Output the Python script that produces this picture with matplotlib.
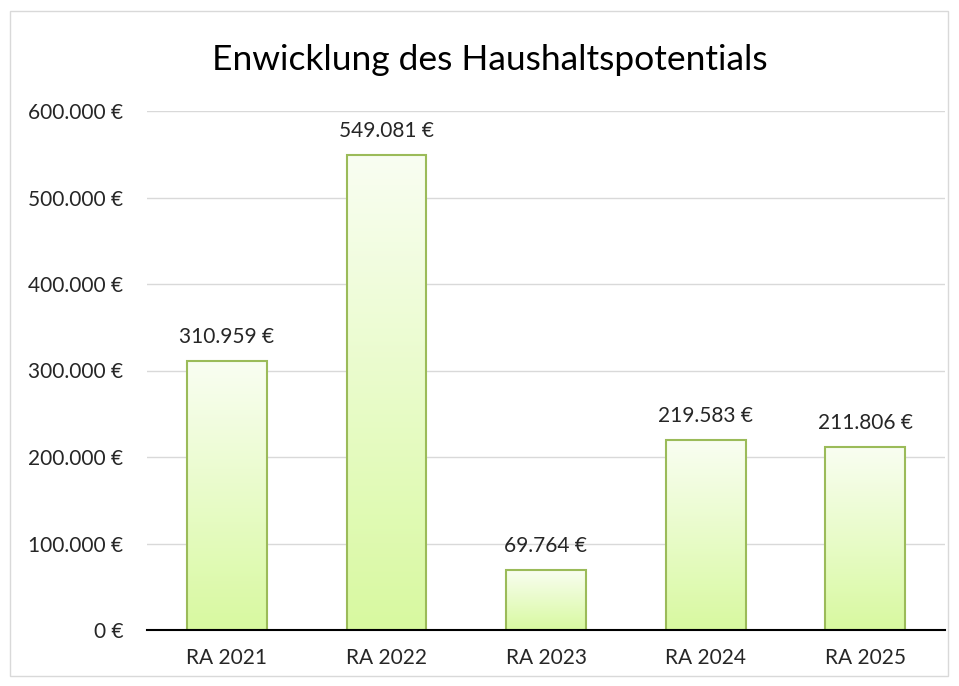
import numpy as np
import matplotlib.pyplot as plt
from matplotlib.patches import Rectangle
from matplotlib.colors import LinearSegmentedColormap

plt.rcParams['font.family'] = ['Lato', 'DejaVu Sans']

# Daten
kategorien = ['RA 2021', 'RA 2022', 'RA 2023', 'RA 2024', 'RA 2025']
werte = [310959, 549081, 69764, 219583, 211806]
y_ticks = [0, 100000, 200000, 300000, 400000, 500000, 600000]


def euro(v):
    return f"{v:,.0f} €".replace(',', '.')


fig = plt.figure(figsize=(9.59, 6.86), dpi=100)
# Rahmen
fig.patches.append(Rectangle((10 / 959, 1 - 676 / 686), 938 / 959, 665 / 686,
                             transform=fig.transFigure, fill=False,
                             edgecolor='#d9d9d9', linewidth=1))

ax = fig.add_axes([147 / 959, 56 / 686, 798 / 959, 519 / 686])
x = np.arange(len(kategorien))
bars = ax.bar(x, werte, width=0.5, color='none', edgecolor='#9bbb59',
              linewidth=1.5, zorder=3)

cmap = LinearSegmentedColormap.from_list('gruen', ['#d8f9a0', '#f9fef2'])
grad = np.linspace(0, 1, 256).reshape(-1, 1)
for b in bars:
    bx, by = b.get_x(), b.get_y()
    w, h = b.get_width(), b.get_height()
    im = ax.imshow(grad, cmap=cmap, aspect='auto', origin='lower',
                   extent=[bx, bx + w, by, by + h], zorder=2)
    im.set_clip_path(b)
    ax.text(bx + w / 2, h + 16000, euro(h), ha='center', va='bottom',
            fontsize=15, color='#262626')

ax.set_xlim(-0.5, len(kategorien) - 0.5)
ax.set_ylim(0, 600000)
ax.set_yticks(y_ticks)
ax.set_yticklabels([euro(v) for v in y_ticks], fontsize=15, color='#262626')
ax.set_xticks(x)
ax.set_xticklabels(kategorien, fontsize=15, color='#262626')
ax.tick_params(axis='x', length=0, pad=13)
ax.tick_params(axis='y', length=0, pad=17)
ax.grid(axis='y', color='#d9d9d9', linewidth=1, zorder=0)
for s in ['top', 'right', 'left']:
    ax.spines[s].set_visible(False)
ax.spines['bottom'].set_linewidth(1.5)
ax.spines['bottom'].set_zorder(4)

fig.text(490 / 959, 1 - 60 / 686, 'Enwicklung des Haushaltspotentials',
         ha='center', va='center', fontsize=25.5, color='#000000')

fig.savefig('out.png', dpi=100)
